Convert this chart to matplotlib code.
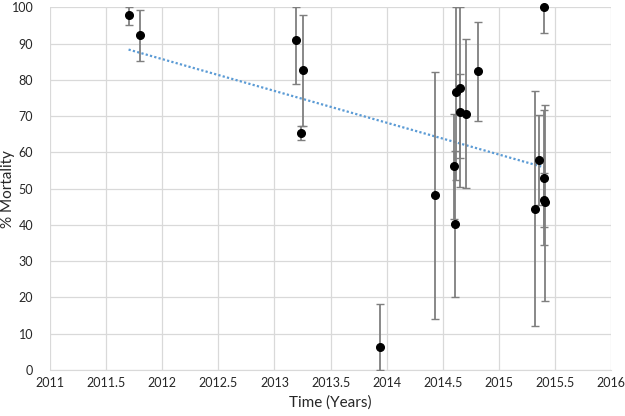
import numpy as np
import matplotlib
matplotlib.use('Agg')
import matplotlib.pyplot as plt

plt.rcParams['font.family'] = ['Lato', 'DejaVu Sans']

# values
years = [2011.70, 2011.80, 2013.19, 2013.25, 2013.24, 2013.94, 2014.43, 2014.60,
         2014.61, 2014.62, 2014.65, 2014.65, 2014.71, 2014.81, 2015.32, 2015.36,
         2015.40, 2015.40, 2015.40, 2015.41]
mortality = [98.0, 92.3, 90.9, 82.7, 65.3, 6.3, 48.2, 56.2, 40.3, 76.6,
             77.7, 71.1, 70.6, 82.4, 44.5, 57.8, 100.0, 52.9, 46.9, 46.2]
err_low = [2.7, 7.2, 11.9, 15.4, 2.0, 6.3, 34.1, 14.5, 20.1, 24.2,
           27.2, 12.6, 20.5, 13.7, 32.4, 12.3, 7.0, 18.4, 7.4, 27.1]
err_high = [2.0, 7.0, 9.1, 15.2, 2.1, 11.8, 34.1, 14.5, 20.1, 23.4,
            22.3, 10.5, 20.7, 13.6, 32.5, 12.4, 0.0, 18.7, 7.4, 27.0]

x_ticks = [2011, 2011.5, 2012, 2012.5, 2013, 2013.5, 2014, 2014.5, 2015, 2015.5, 2016]
x_labels = ['2011', '2011.5', '2012', '2012.5', '2013', '2013.5', '2014',
            '2014.5', '2015', '2015.5', '2016']
y_ticks = list(range(0, 101, 10))

fig = plt.figure(figsize=(6.25, 4.16), dpi=100)
ax = fig.add_axes([0.08, 0.111, 0.898, 0.871])

x = np.array(years)
y = np.array(mortality)

ax.errorbar(x, y, yerr=[err_low, err_high], fmt='none', ecolor='#7f7f7f',
            elinewidth=1.3, capsize=3, capthick=1.0, zorder=3)
ax.plot(x, y, 'o', color='black', markersize=5.5, zorder=4, clip_on=False)

# linear trend line like Excel
k, b = np.polyfit(x, y, 1)
xt = np.array([x.min(), x.max()])
ax.plot(xt, k * xt + b, linestyle=(0, (1, 1)), color='#5b9bd5', lw=1.6, zorder=2)

ax.set_xlim(2011, 2016)
ax.set_ylim(0, 100)
ax.set_xticks(x_ticks)
ax.set_xticklabels(x_labels)
ax.set_yticks(y_ticks)

ax.grid(True, color='#d9d9d9', lw=0.9)
ax.set_axisbelow(True)
for s in ['top', 'right', 'left']:
    ax.spines[s].set_visible(False)
ax.spines['bottom'].set_color('#d9d9d9')
ax.tick_params(axis='y', length=0, labelsize=9, colors='#262626', pad=12)
ax.tick_params(axis='x', length=0, labelsize=9, colors='#262626', pad=5)

ax.set_xlabel('Time (Years)', fontsize=11, color='#262626', labelpad=5)
ax.set_ylabel('% Mortality', fontsize=11, color='#262626')
ax.yaxis.set_label_coords(-0.062, 0.5)

plt.savefig('out.png', dpi=100)
